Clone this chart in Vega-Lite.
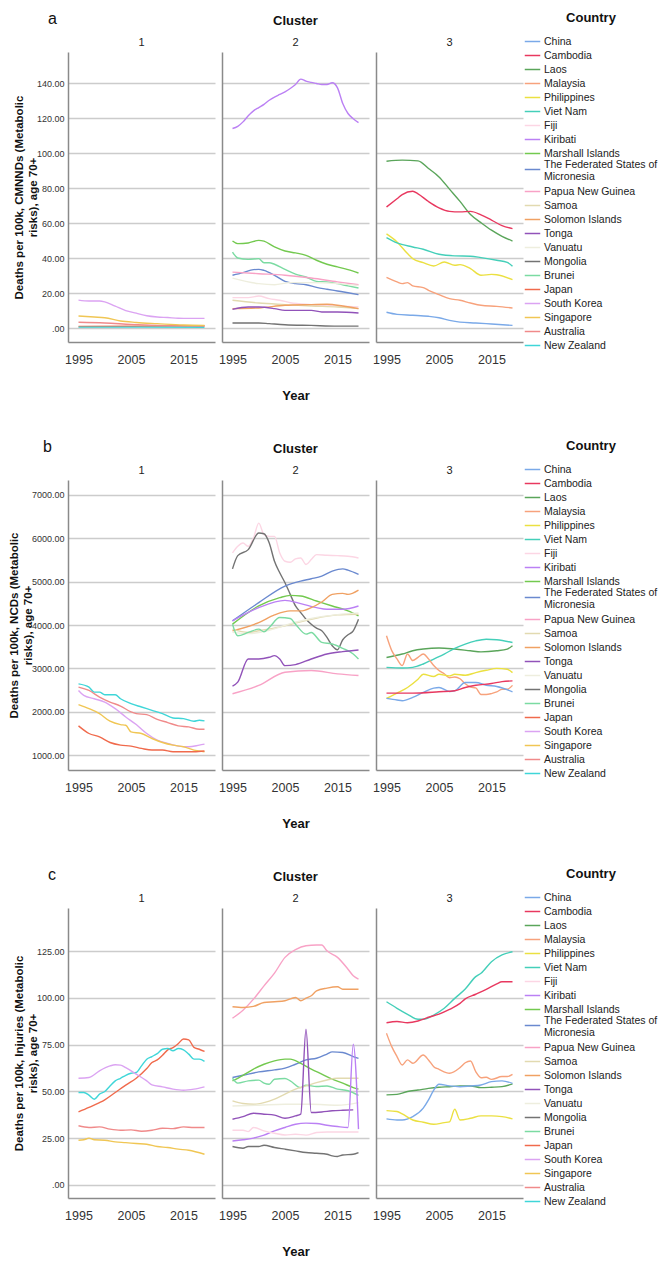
{
  "$schema": "https://vega.github.io/schema/vega-lite/v6.json",
  "padding": {"left": 8, "top": 11, "right": 0, "bottom": 0},
  "background": "white",
  "config": {
    "font": "Liberation Sans",
    "view": {"stroke": null},
    "range": {"category": ["#7aa9e8","#e8385f","#5aa55a","#f7a27c","#ebe041","#44cfb9","#fcd6e4","#bb80f4","#73c94f","#6a89cf","#f8a2c6","#e2dab0","#f0a163","#9152b9","#eeeede","#737373","#7bdba2","#f06a4c","#dba3f2","#f0c654","#f08a8a","#3fd6d8"]},
    "axis": {"gridColor": "#cccccc", "gridWidth": 1.5, "domainColor": "#8a8a8a", "domainWidth": 1.5, "ticks": false, "labelColor": "#333333", "titleColor": "#111111", "titleFontWeight": "bold"},
    "axisX": {"labelFontSize": 12.5, "labelPadding": 11, "titleFontSize": 13, "titlePadding": 24, "grid": false},
    "axisY": {"labelFontSize": 9, "labelPadding": 4, "titleFontSize": 11.5, "titlePadding": -2, "grid": true},
    "title": {"fontSize": 13, "fontWeight": "bold", "color": "#111111", "subtitleFontSize": 11, "subtitleColor": "#222222", "subtitlePadding": 9, "offset": 4, "anchor": "middle", "frame": "group"},
    "legend": {"titleFontSize": 13, "titleFontWeight": "bold", "titleColor": "#111111", "labelFontSize": 10.5, "labelColor": "#222222", "symbolType": "stroke", "symbolSize": 240, "symbolStrokeWidth": 1.5, "titleAnchor": "middle", "titlePadding": 8, "rowPadding": 0, "labelOffset": 3, "labelLimit": 200, "padding": 0},
    "concat": {"spacing": 36}
  },
  "datasets": {
    "countries": [
      {"c": "CN", "Country": "China", "Cluster": 3},
      {"c": "KH", "Country": "Cambodia", "Cluster": 3},
      {"c": "LA", "Country": "Laos", "Cluster": 3},
      {"c": "MY", "Country": "Malaysia", "Cluster": 3},
      {"c": "PH", "Country": "Philippines", "Cluster": 3},
      {"c": "VN", "Country": "Viet Nam", "Cluster": 3},
      {"c": "FJ", "Country": "Fiji", "Cluster": 2},
      {"c": "KI", "Country": "Kiribati", "Cluster": 2},
      {"c": "MH", "Country": "Marshall Islands", "Cluster": 2},
      {"c": "FM", "Country": "The Federated States of Micronesia", "Cluster": 2},
      {"c": "PG", "Country": "Papua New Guinea", "Cluster": 2},
      {"c": "WS", "Country": "Samoa", "Cluster": 2},
      {"c": "SB", "Country": "Solomon Islands", "Cluster": 2},
      {"c": "TO", "Country": "Tonga", "Cluster": 2},
      {"c": "VU", "Country": "Vanuatu", "Cluster": 2},
      {"c": "MN", "Country": "Mongolia", "Cluster": 2},
      {"c": "BN", "Country": "Brunei", "Cluster": 2},
      {"c": "JP", "Country": "Japan", "Cluster": 1},
      {"c": "KR", "Country": "South Korea", "Cluster": 1},
      {"c": "SG", "Country": "Singapore", "Cluster": 1},
      {"c": "AU", "Country": "Australia", "Cluster": 1},
      {"c": "NZ", "Country": "New Zealand", "Cluster": 1}
    ],
    "a": [
      {"c":"JP","y":1995,"v":0.9},{"c":"JP","y":2005,"v":1.0},{"c":"JP","y":2019,"v":1.3},
      {"c":"AU","y":1995,"v":3.3},{"c":"AU","y":2000,"v":2.9},{"c":"AU","y":2005,"v":2.1},{"c":"AU","y":2010,"v":1.5},{"c":"AU","y":2015,"v":1.1},{"c":"AU","y":2019,"v":1.0},
      {"c":"NZ","y":1995,"v":0.5},{"c":"NZ","y":2007,"v":0.5},{"c":"NZ","y":2019,"v":0.4},
      {"c":"KR","y":1995,"v":16},{"c":"KR","y":1997,"v":15.5},{"c":"KR","y":1999,"v":15.5},{"c":"KR","y":2000,"v":15},{"c":"KR","y":2002,"v":12.5},{"c":"KR","y":2004,"v":10},{"c":"KR","y":2006,"v":8.5},{"c":"KR","y":2008,"v":7},{"c":"KR","y":2010,"v":6.3},{"c":"KR","y":2012,"v":6},{"c":"KR","y":2014,"v":5.6},{"c":"KR","y":2016,"v":5.5},{"c":"KR","y":2019,"v":5.5},
      {"c":"SG","y":1995,"v":6.9},{"c":"SG","y":1998,"v":6.3},{"c":"SG","y":2000,"v":5.9},{"c":"SG","y":2003,"v":4},{"c":"SG","y":2006,"v":3.2},{"c":"SG","y":2010,"v":2.5},{"c":"SG","y":2015,"v":1.7},{"c":"SG","y":2019,"v":1.5},
      {"c":"KI","y":1995,"v":114.2},{"c":"KI","y":1996,"v":115.4},{"c":"KI","y":1997,"v":118},{"c":"KI","y":1998,"v":121.5},{"c":"KI","y":1999,"v":124.3},{"c":"KI","y":2000,"v":126.2},{"c":"KI","y":2001,"v":128},{"c":"KI","y":2002,"v":130.4},{"c":"KI","y":2003,"v":132.2},{"c":"KI","y":2004,"v":133.7},{"c":"KI","y":2005,"v":135.2},{"c":"KI","y":2006,"v":137.1},{"c":"KI","y":2007,"v":139.4},{"c":"KI","y":2008,"v":142.5},{"c":"KI","y":2009,"v":141.3},{"c":"KI","y":2010,"v":140.6},{"c":"KI","y":2011,"v":140},{"c":"KI","y":2012,"v":139.4},{"c":"KI","y":2013,"v":139.4},{"c":"KI","y":2014,"v":140.4},{"c":"KI","y":2015,"v":137.5},{"c":"KI","y":2016,"v":128.5},{"c":"KI","y":2017,"v":122.8},{"c":"KI","y":2018,"v":119.8},{"c":"KI","y":2019,"v":117.6},
      {"c":"MH","y":1995,"v":49.8},{"c":"MH","y":1996,"v":48.3},{"c":"MH","y":1998,"v":48.7},{"c":"MH","y":2000,"v":50.2},{"c":"MH","y":2001,"v":49.7},{"c":"MH","y":2003,"v":46.4},{"c":"MH","y":2005,"v":44.1},{"c":"MH","y":2007,"v":43},{"c":"MH","y":2009,"v":41.6},{"c":"MH","y":2011,"v":38.8},{"c":"MH","y":2013,"v":36.5},{"c":"MH","y":2015,"v":35},{"c":"MH","y":2017,"v":33.4},{"c":"MH","y":2019,"v":31.5},
      {"c":"BN","y":1995,"v":43.5},{"c":"BN","y":1996,"v":40.1},{"c":"BN","y":1998,"v":39.3},{"c":"BN","y":2000,"v":39.7},{"c":"BN","y":2001,"v":37.4},{"c":"BN","y":2002,"v":37.4},{"c":"BN","y":2003,"v":36.5},{"c":"BN","y":2005,"v":33.6},{"c":"BN","y":2007,"v":30.9},{"c":"BN","y":2009,"v":29.2},{"c":"BN","y":2011,"v":26.7},{"c":"BN","y":2013,"v":26.4},{"c":"BN","y":2015,"v":25.4},{"c":"BN","y":2017,"v":24.1},{"c":"BN","y":2019,"v":22.9},
      {"c":"FM","y":1995,"v":30.2},{"c":"FM","y":1997,"v":31.7},{"c":"FM","y":1999,"v":33.4},{"c":"FM","y":2000,"v":33.6},{"c":"FM","y":2001,"v":33},{"c":"FM","y":2003,"v":30.2},{"c":"FM","y":2005,"v":26.7},{"c":"FM","y":2007,"v":25.4},{"c":"FM","y":2009,"v":24.8},{"c":"FM","y":2011,"v":23.3},{"c":"FM","y":2013,"v":22.2},{"c":"FM","y":2015,"v":21.2},{"c":"FM","y":2017,"v":20.2},{"c":"FM","y":2019,"v":19.1},
      {"c":"PG","y":1995,"v":32},{"c":"PG","y":2000,"v":31.1},{"c":"PG","y":2005,"v":30.2},{"c":"PG","y":2010,"v":28.6},{"c":"PG","y":2015,"v":26.4},{"c":"PG","y":2019,"v":24.8},
      {"c":"VU","y":1995,"v":28.6},{"c":"VU","y":2000,"v":25.4},{"c":"VU","y":2003,"v":24.8},{"c":"VU","y":2006,"v":26},{"c":"VU","y":2010,"v":26},{"c":"VU","y":2015,"v":25.4},{"c":"VU","y":2019,"v":24.4},
      {"c":"FJ","y":1995,"v":17.4},{"c":"FJ","y":1998,"v":17.4},{"c":"FJ","y":2000,"v":18.3},{"c":"FJ","y":2002,"v":16.8},{"c":"FJ","y":2004,"v":15.9},{"c":"FJ","y":2006,"v":14.5},{"c":"FJ","y":2010,"v":13.4},{"c":"FJ","y":2015,"v":12.6},{"c":"FJ","y":2019,"v":12},
      {"c":"WS","y":1995,"v":15.9},{"c":"WS","y":2000,"v":14.3},{"c":"WS","y":2005,"v":13.4},{"c":"WS","y":2010,"v":12.6},{"c":"WS","y":2015,"v":12},{"c":"WS","y":2019,"v":11.1},
      {"c":"SB","y":1995,"v":11.1},{"c":"SB","y":2000,"v":11.5},{"c":"SB","y":2005,"v":13},{"c":"SB","y":2010,"v":13.4},{"c":"SB","y":2013,"v":13.6},{"c":"SB","y":2016,"v":12.6},{"c":"SB","y":2019,"v":11.1},
      {"c":"TO","y":1995,"v":10.7},{"c":"TO","y":1998,"v":12},{"c":"TO","y":2000,"v":12},{"c":"TO","y":2003,"v":11.1},{"c":"TO","y":2005,"v":10.1},{"c":"TO","y":2010,"v":10.1},{"c":"TO","y":2012,"v":9.2},{"c":"TO","y":2015,"v":9.2},{"c":"TO","y":2019,"v":8.6},
      {"c":"MN","y":1995,"v":2.9},{"c":"MN","y":2000,"v":2.9},{"c":"MN","y":2002,"v":2.5},{"c":"MN","y":2005,"v":1.9},{"c":"MN","y":2010,"v":1.5},{"c":"MN","y":2015,"v":1.1},{"c":"MN","y":2019,"v":1.1},
      {"c":"LA","y":1995,"v":95.5},{"c":"LA","y":1998,"v":96.1},{"c":"LA","y":2001,"v":95.7},{"c":"LA","y":2003,"v":91.3},{"c":"LA","y":2005,"v":86.5},{"c":"LA","y":2007,"v":79.5},{"c":"LA","y":2009,"v":72.5},{"c":"LA","y":2011,"v":65},{"c":"LA","y":2013,"v":60.3},{"c":"LA","y":2015,"v":56},{"c":"LA","y":2017,"v":52.5},{"c":"LA","y":2019,"v":49.8},
      {"c":"KH","y":1995,"v":69.3},{"c":"KH","y":1997,"v":74},{"c":"KH","y":1998,"v":76.4},{"c":"KH","y":2000,"v":78.3},{"c":"KH","y":2001,"v":76.8},{"c":"KH","y":2003,"v":72.4},{"c":"KH","y":2005,"v":68.8},{"c":"KH","y":2007,"v":66.8},{"c":"KH","y":2009,"v":66.5},{"c":"KH","y":2011,"v":66.8},{"c":"KH","y":2013,"v":64.8},{"c":"KH","y":2015,"v":61.8},{"c":"KH","y":2017,"v":58.6},{"c":"KH","y":2019,"v":56.9},
      {"c":"PH","y":1995,"v":53.9},{"c":"PH","y":1997,"v":49.3},{"c":"PH","y":1999,"v":42.6},{"c":"PH","y":2000,"v":39.7},{"c":"PH","y":2002,"v":37.4},{"c":"PH","y":2004,"v":35.5},{"c":"PH","y":2006,"v":37.8},{"c":"PH","y":2008,"v":35.9},{"c":"PH","y":2009,"v":36.3},{"c":"PH","y":2011,"v":34},{"c":"PH","y":2013,"v":30.2},{"c":"PH","y":2015,"v":30.7},{"c":"PH","y":2016,"v":30.5},{"c":"PH","y":2019,"v":27.7},
      {"c":"VN","y":1995,"v":51.8},{"c":"VN","y":1997,"v":48.7},{"c":"VN","y":2000,"v":46.4},{"c":"VN","y":2002,"v":45.1},{"c":"VN","y":2005,"v":42.2},{"c":"VN","y":2008,"v":41.3},{"c":"VN","y":2011,"v":41.1},{"c":"VN","y":2013,"v":40.3},{"c":"VN","y":2016,"v":38.8},{"c":"VN","y":2018,"v":37.6},{"c":"VN","y":2019,"v":35.3},
      {"c":"MY","y":1995,"v":29},{"c":"MY","y":1997,"v":26.4},{"c":"MY","y":1998,"v":25.4},{"c":"MY","y":1999,"v":26},{"c":"MY","y":2000,"v":24.1},{"c":"MY","y":2002,"v":23.1},{"c":"MY","y":2003,"v":21.6},{"c":"MY","y":2005,"v":19.1},{"c":"MY","y":2007,"v":16.8},{"c":"MY","y":2009,"v":15.9},{"c":"MY","y":2011,"v":14.3},{"c":"MY","y":2013,"v":13},{"c":"MY","y":2016,"v":12.4},{"c":"MY","y":2019,"v":11.5},
      {"c":"CN","y":1995,"v":9},{"c":"CN","y":1997,"v":7.8},{"c":"CN","y":2000,"v":7.3},{"c":"CN","y":2003,"v":6.7},{"c":"CN","y":2005,"v":5.9},{"c":"CN","y":2007,"v":4.4},{"c":"CN","y":2009,"v":3.4},{"c":"CN","y":2012,"v":2.9},{"c":"CN","y":2015,"v":2.3},{"c":"CN","y":2019,"v":1.5}
    ],
    "b": [
      {"c":"NZ","y":1995,"v":2643},{"c":"NZ","y":1997,"v":2567},{"c":"NZ","y":1998,"v":2452},{"c":"NZ","y":1999,"v":2452},{"c":"NZ","y":2000,"v":2391},{"c":"NZ","y":2002,"v":2391},{"c":"NZ","y":2003,"v":2299},{"c":"NZ","y":2005,"v":2185},{"c":"NZ","y":2007,"v":2108},{"c":"NZ","y":2009,"v":2032},{"c":"NZ","y":2011,"v":1955},{"c":"NZ","y":2013,"v":1856},{"c":"NZ","y":2015,"v":1841},{"c":"NZ","y":2017,"v":1780},{"c":"NZ","y":2018,"v":1803},{"c":"NZ","y":2019,"v":1787},
      {"c":"AU","y":1995,"v":2567},{"c":"AU","y":1997,"v":2490},{"c":"AU","y":1999,"v":2338},{"c":"AU","y":2001,"v":2223},{"c":"AU","y":2003,"v":2131},{"c":"AU","y":2005,"v":1994},{"c":"AU","y":2006,"v":1955},{"c":"AU","y":2008,"v":1932},{"c":"AU","y":2010,"v":1825},{"c":"AU","y":2012,"v":1749},{"c":"AU","y":2014,"v":1673},{"c":"AU","y":2016,"v":1650},{"c":"AU","y":2018,"v":1596},{"c":"AU","y":2019,"v":1596},
      {"c":"KR","y":1995,"v":2490},{"c":"KR","y":1996,"v":2376},{"c":"KR","y":1998,"v":2299},{"c":"KR","y":2000,"v":2223},{"c":"KR","y":2002,"v":2070},{"c":"KR","y":2004,"v":1879},{"c":"KR","y":2006,"v":1703},{"c":"KR","y":2008,"v":1497},{"c":"KR","y":2010,"v":1344},{"c":"KR","y":2012,"v":1268},{"c":"KR","y":2014,"v":1206},{"c":"KR","y":2016,"v":1191},{"c":"KR","y":2018,"v":1229},{"c":"KR","y":2019,"v":1252},
      {"c":"SG","y":1995,"v":2162},{"c":"SG","y":1997,"v":2070},{"c":"SG","y":1999,"v":1955},{"c":"SG","y":2001,"v":1780},{"c":"SG","y":2003,"v":1703},{"c":"SG","y":2004,"v":1688},{"c":"SG","y":2005,"v":1535},{"c":"SG","y":2007,"v":1497},{"c":"SG","y":2009,"v":1382},{"c":"SG","y":2011,"v":1290},{"c":"SG","y":2013,"v":1229},{"c":"SG","y":2015,"v":1191},{"c":"SG","y":2017,"v":1115},{"c":"SG","y":2019,"v":1076},
      {"c":"JP","y":1995,"v":1673},{"c":"JP","y":1997,"v":1497},{"c":"JP","y":1999,"v":1420},{"c":"JP","y":2001,"v":1290},{"c":"JP","y":2003,"v":1229},{"c":"JP","y":2005,"v":1206},{"c":"JP","y":2007,"v":1153},{"c":"JP","y":2009,"v":1115},{"c":"JP","y":2011,"v":1115},{"c":"JP","y":2013,"v":1076},{"c":"JP","y":2015,"v":1076},{"c":"JP","y":2017,"v":1076},{"c":"JP","y":2019,"v":1092},
      {"c":"FJ","y":1995,"v":5662},{"c":"FJ","y":1996,"v":5815},{"c":"FJ","y":1997,"v":5892},{"c":"FJ","y":1998,"v":5815},{"c":"FJ","y":1999,"v":6006},{"c":"FJ","y":2000,"v":6350},{"c":"FJ","y":2001,"v":6083},{"c":"FJ","y":2002,"v":6044},{"c":"FJ","y":2003,"v":6044},{"c":"FJ","y":2004,"v":5662},{"c":"FJ","y":2005,"v":5471},{"c":"FJ","y":2006,"v":5448},{"c":"FJ","y":2007,"v":5525},{"c":"FJ","y":2008,"v":5547},{"c":"FJ","y":2009,"v":5395},{"c":"FJ","y":2010,"v":5509},{"c":"FJ","y":2011,"v":5624},{"c":"FJ","y":2013,"v":5609},{"c":"FJ","y":2015,"v":5601},{"c":"FJ","y":2017,"v":5586},{"c":"FJ","y":2019,"v":5547},
      {"c":"MN","y":1995,"v":5295},{"c":"MN","y":1996,"v":5601},{"c":"MN","y":1998,"v":5739},{"c":"MN","y":2000,"v":6121},{"c":"MN","y":2001,"v":6106},{"c":"MN","y":2002,"v":5892},{"c":"MN","y":2003,"v":5471},{"c":"MN","y":2004,"v":5204},{"c":"MN","y":2005,"v":4975},{"c":"MN","y":2006,"v":4707},{"c":"MN","y":2007,"v":4440},{"c":"MN","y":2008,"v":4287},{"c":"MN","y":2009,"v":4133},{"c":"MN","y":2010,"v":4019},{"c":"MN","y":2011,"v":3927},{"c":"MN","y":2012,"v":3866},{"c":"MN","y":2013,"v":3713},{"c":"MN","y":2014,"v":3522},{"c":"MN","y":2015,"v":3430},{"c":"MN","y":2016,"v":3660},{"c":"MN","y":2017,"v":3775},{"c":"MN","y":2018,"v":3866},{"c":"MN","y":2019,"v":4133},
      {"c":"FM","y":1995,"v":4095},{"c":"FM","y":2000,"v":4516},{"c":"FM","y":2005,"v":4898},{"c":"FM","y":2008,"v":5013},{"c":"FM","y":2010,"v":5066},{"c":"FM","y":2012,"v":5127},{"c":"FM","y":2014,"v":5242},{"c":"FM","y":2016,"v":5295},{"c":"FM","y":2017,"v":5265},{"c":"FM","y":2019,"v":5165},
      {"c":"MH","y":1995,"v":4019},{"c":"MH","y":2000,"v":4439},{"c":"MH","y":2004,"v":4630},{"c":"MH","y":2006,"v":4684},{"c":"MH","y":2008,"v":4669},{"c":"MH","y":2011,"v":4554},{"c":"MH","y":2014,"v":4439},{"c":"MH","y":2017,"v":4325},{"c":"MH","y":2019,"v":4210},
      {"c":"KI","y":1995,"v":4095},{"c":"KI","y":2000,"v":4401},{"c":"KI","y":2005,"v":4569},{"c":"KI","y":2008,"v":4493},{"c":"KI","y":2011,"v":4401},{"c":"KI","y":2013,"v":4363},{"c":"KI","y":2016,"v":4363},{"c":"KI","y":2019,"v":4439},
      {"c":"SB","y":1995,"v":3866},{"c":"SB","y":2000,"v":4057},{"c":"SB","y":2003,"v":4233},{"c":"SB","y":2006,"v":4325},{"c":"SB","y":2008,"v":4325},{"c":"SB","y":2010,"v":4401},{"c":"SB","y":2012,"v":4531},{"c":"SB","y":2014,"v":4707},{"c":"SB","y":2016,"v":4730},{"c":"SB","y":2017,"v":4707},{"c":"SB","y":2019,"v":4806},
      {"c":"WS","y":1995,"v":3904},{"c":"WS","y":1998,"v":3828},{"c":"WS","y":2000,"v":3866},{"c":"WS","y":2005,"v":3981},{"c":"WS","y":2010,"v":4133},{"c":"WS","y":2015,"v":4233},{"c":"WS","y":2019,"v":4248},
      {"c":"VU","y":1995,"v":3830},{"c":"VU","y":1998,"v":3800},{"c":"VU","y":2002,"v":3880},{"c":"VU","y":2006,"v":4030},{"c":"VU","y":2010,"v":4150},{"c":"VU","y":2015,"v":4240},{"c":"VU","y":2019,"v":4280},
      {"c":"BN","y":1995,"v":4019},{"c":"BN","y":1996,"v":3752},{"c":"BN","y":1998,"v":3828},{"c":"BN","y":2000,"v":3904},{"c":"BN","y":2001,"v":3843},{"c":"BN","y":2002,"v":3943},{"c":"BN","y":2004,"v":4172},{"c":"BN","y":2006,"v":4149},{"c":"BN","y":2007,"v":4019},{"c":"BN","y":2009,"v":3790},{"c":"BN","y":2010,"v":3828},{"c":"BN","y":2012,"v":3599},{"c":"BN","y":2014,"v":3561},{"c":"BN","y":2016,"v":3461},{"c":"BN","y":2018,"v":3331},{"c":"BN","y":2019,"v":3216},
      {"c":"TO","y":1995,"v":2590},{"c":"TO","y":1996,"v":2681},{"c":"TO","y":1998,"v":3216},{"c":"TO","y":2000,"v":3216},{"c":"TO","y":2002,"v":3255},{"c":"TO","y":2003,"v":3293},{"c":"TO","y":2004,"v":3216},{"c":"TO","y":2005,"v":3063},{"c":"TO","y":2007,"v":3087},{"c":"TO","y":2010,"v":3216},{"c":"TO","y":2013,"v":3331},{"c":"TO","y":2016,"v":3385},{"c":"TO","y":2019,"v":3423},
      {"c":"PG","y":1995,"v":2414},{"c":"PG","y":2000,"v":2605},{"c":"PG","y":2005,"v":2911},{"c":"PG","y":2010,"v":2949},{"c":"PG","y":2015,"v":2872},{"c":"PG","y":2019,"v":2834},
      {"c":"LA","y":1995,"v":3250},{"c":"LA","y":1998,"v":3330},{"c":"LA","y":2000,"v":3405},{"c":"LA","y":2002,"v":3445},{"c":"LA","y":2005,"v":3470},{"c":"LA","y":2008,"v":3445},{"c":"LA","y":2011,"v":3405},{"c":"LA","y":2013,"v":3380},{"c":"LA","y":2016,"v":3405},{"c":"LA","y":2018,"v":3445},{"c":"LA","y":2019,"v":3520},
      {"c":"VN","y":1995,"v":3023},{"c":"VN","y":1998,"v":3008},{"c":"VN","y":2000,"v":3023},{"c":"VN","y":2002,"v":3100},{"c":"VN","y":2004,"v":3215},{"c":"VN","y":2006,"v":3330},{"c":"VN","y":2008,"v":3460},{"c":"VN","y":2010,"v":3560},{"c":"VN","y":2012,"v":3635},{"c":"VN","y":2014,"v":3673},{"c":"VN","y":2016,"v":3660},{"c":"VN","y":2019,"v":3597},
      {"c":"MY","y":1995,"v":3750},{"c":"MY","y":1996,"v":3408},{"c":"MY","y":1997,"v":3217},{"c":"MY","y":1998,"v":3065},{"c":"MY","y":1999,"v":3330},{"c":"MY","y":2000,"v":3180},{"c":"MY","y":2001,"v":3255},{"c":"MY","y":2002,"v":3330},{"c":"MY","y":2003,"v":3218},{"c":"MY","y":2004,"v":3065},{"c":"MY","y":2005,"v":2950},{"c":"MY","y":2006,"v":2875},{"c":"MY","y":2007,"v":2784},{"c":"MY","y":2008,"v":2800},{"c":"MY","y":2009,"v":2760},{"c":"MY","y":2010,"v":2645},{"c":"MY","y":2011,"v":2570},{"c":"MY","y":2012,"v":2548},{"c":"MY","y":2013,"v":2396},{"c":"MY","y":2014,"v":2396},{"c":"MY","y":2015,"v":2418},{"c":"MY","y":2016,"v":2456},{"c":"MY","y":2017,"v":2517},{"c":"MY","y":2018,"v":2517},{"c":"MY","y":2019,"v":2608},
      {"c":"PH","y":1995,"v":2307},{"c":"PH","y":1997,"v":2429},{"c":"PH","y":1999,"v":2559},{"c":"PH","y":2001,"v":2750},{"c":"PH","y":2002,"v":2864},{"c":"PH","y":2004,"v":2811},{"c":"PH","y":2005,"v":2864},{"c":"PH","y":2007,"v":2826},{"c":"PH","y":2008,"v":2864},{"c":"PH","y":2010,"v":2841},{"c":"PH","y":2012,"v":2902},{"c":"PH","y":2014,"v":2955},{"c":"PH","y":2016,"v":3000},{"c":"PH","y":2018,"v":2978},{"c":"PH","y":2019,"v":2902},
      {"c":"CN","y":1995,"v":2307},{"c":"CN","y":1997,"v":2269},{"c":"CN","y":1998,"v":2254},{"c":"CN","y":2000,"v":2330},{"c":"CN","y":2002,"v":2444},{"c":"CN","y":2004,"v":2543},{"c":"CN","y":2005,"v":2558},{"c":"CN","y":2007,"v":2467},{"c":"CN","y":2008,"v":2482},{"c":"CN","y":2010,"v":2672},{"c":"CN","y":2012,"v":2672},{"c":"CN","y":2014,"v":2611},{"c":"CN","y":2016,"v":2581},{"c":"CN","y":2019,"v":2459},
      {"c":"KH","y":1995,"v":2429},{"c":"KH","y":2000,"v":2429},{"c":"KH","y":2005,"v":2459},{"c":"KH","y":2008,"v":2482},{"c":"KH","y":2010,"v":2558},{"c":"KH","y":2012,"v":2611},{"c":"KH","y":2015,"v":2649},{"c":"KH","y":2017,"v":2695},{"c":"KH","y":2019,"v":2710}
    ],
    "c": [
      {"c":"JP","y":1995,"v":39},{"c":"JP","y":1997,"v":41.4},{"c":"JP","y":1999,"v":44},{"c":"JP","y":2000,"v":45.5},{"c":"JP","y":2002,"v":49.4},{"c":"JP","y":2004,"v":53.3},{"c":"JP","y":2006,"v":57},{"c":"JP","y":2008,"v":62.2},{"c":"JP","y":2009,"v":65.4},{"c":"JP","y":2010,"v":66.8},{"c":"JP","y":2011,"v":69.3},{"c":"JP","y":2012,"v":72.2},{"c":"JP","y":2013,"v":73.4},{"c":"JP","y":2014,"v":75.5},{"c":"JP","y":2015,"v":78},{"c":"JP","y":2016,"v":77.5},{"c":"JP","y":2017,"v":73.5},{"c":"JP","y":2018,"v":72.5},{"c":"JP","y":2019,"v":71.3},
      {"c":"NZ","y":1995,"v":49.4},{"c":"NZ","y":1996,"v":49.4},{"c":"NZ","y":1997,"v":48},{"c":"NZ","y":1998,"v":45.8},{"c":"NZ","y":1999,"v":48.5},{"c":"NZ","y":2000,"v":49.9},{"c":"NZ","y":2001,"v":52.9},{"c":"NZ","y":2002,"v":55.6},{"c":"NZ","y":2003,"v":57},{"c":"NZ","y":2004,"v":58.6},{"c":"NZ","y":2005,"v":59.7},{"c":"NZ","y":2006,"v":60.1},{"c":"NZ","y":2007,"v":63.6},{"c":"NZ","y":2008,"v":67.2},{"c":"NZ","y":2009,"v":68.6},{"c":"NZ","y":2010,"v":70.2},{"c":"NZ","y":2011,"v":72.5},{"c":"NZ","y":2012,"v":72.9},{"c":"NZ","y":2013,"v":71.7},{"c":"NZ","y":2014,"v":72.9},{"c":"NZ","y":2015,"v":72.2},{"c":"NZ","y":2016,"v":69.9},{"c":"NZ","y":2017,"v":67.2},{"c":"NZ","y":2018,"v":67.2},{"c":"NZ","y":2019,"v":66},
      {"c":"KR","y":1995,"v":57},{"c":"KR","y":1997,"v":57.4},{"c":"KR","y":1999,"v":61},{"c":"KR","y":2001,"v":63.6},{"c":"KR","y":2002,"v":64.2},{"c":"KR","y":2003,"v":64},{"c":"KR","y":2004,"v":62.7},{"c":"KR","y":2006,"v":59.2},{"c":"KR","y":2008,"v":55.6},{"c":"KR","y":2009,"v":53.5},{"c":"KR","y":2011,"v":52.4},{"c":"KR","y":2013,"v":51.2},{"c":"KR","y":2015,"v":50.6},{"c":"KR","y":2017,"v":51.2},{"c":"KR","y":2019,"v":52.4},
      {"c":"AU","y":1995,"v":31.6},{"c":"AU","y":1997,"v":30.7},{"c":"AU","y":1999,"v":31},{"c":"AU","y":2001,"v":29.8},{"c":"AU","y":2003,"v":29.2},{"c":"AU","y":2005,"v":29.4},{"c":"AU","y":2007,"v":28.7},{"c":"AU","y":2009,"v":29.2},{"c":"AU","y":2011,"v":30.3},{"c":"AU","y":2013,"v":30.1},{"c":"AU","y":2015,"v":31},{"c":"AU","y":2017,"v":30.7},{"c":"AU","y":2019,"v":30.7},
      {"c":"SG","y":1995,"v":23.9},{"c":"SG","y":1996,"v":24.1},{"c":"SG","y":1997,"v":25},{"c":"SG","y":1998,"v":24.1},{"c":"SG","y":2000,"v":23.9},{"c":"SG","y":2002,"v":23},{"c":"SG","y":2004,"v":22.6},{"c":"SG","y":2006,"v":22.1},{"c":"SG","y":2008,"v":21.7},{"c":"SG","y":2010,"v":20.5},{"c":"SG","y":2012,"v":20},{"c":"SG","y":2014,"v":19.1},{"c":"SG","y":2016,"v":18.5},{"c":"SG","y":2019,"v":16.4},
      {"c":"PG","y":1995,"v":89.1},{"c":"PG","y":1997,"v":93.4},{"c":"PG","y":1999,"v":99.3},{"c":"PG","y":2001,"v":106.4},{"c":"PG","y":2003,"v":113.2},{"c":"PG","y":2005,"v":121.6},{"c":"PG","y":2007,"v":125.7},{"c":"PG","y":2009,"v":127.8},{"c":"PG","y":2011,"v":128.2},{"c":"PG","y":2012,"v":128.2},{"c":"PG","y":2013,"v":125.1},{"c":"PG","y":2015,"v":121.6},{"c":"PG","y":2017,"v":115.3},{"c":"PG","y":2018,"v":111.8},{"c":"PG","y":2019,"v":110},
      {"c":"SB","y":1995,"v":95.2},{"c":"SB","y":1997,"v":94.8},{"c":"SB","y":1999,"v":95.4},{"c":"SB","y":2001,"v":97.5},{"c":"SB","y":2003,"v":97.9},{"c":"SB","y":2005,"v":98.4},{"c":"SB","y":2007,"v":100.2},{"c":"SB","y":2008,"v":98.4},{"c":"SB","y":2009,"v":99.8},{"c":"SB","y":2010,"v":101.1},{"c":"SB","y":2011,"v":103.7},{"c":"SB","y":2013,"v":105.2},{"c":"SB","y":2015,"v":105.9},{"c":"SB","y":2016,"v":104.6},{"c":"SB","y":2019,"v":104.6},
      {"c":"FM","y":1995,"v":57.4},{"c":"FM","y":1997,"v":58.6},{"c":"FM","y":2000,"v":60.4},{"c":"FM","y":2003,"v":61.5},{"c":"FM","y":2005,"v":62.4},{"c":"FM","y":2007,"v":64.5},{"c":"FM","y":2009,"v":66.8},{"c":"FM","y":2011,"v":67.7},{"c":"FM","y":2013,"v":69.9},{"c":"FM","y":2014,"v":71.1},{"c":"FM","y":2016,"v":70.8},{"c":"FM","y":2018,"v":68.6},{"c":"FM","y":2019,"v":67.6},
      {"c":"MH","y":1995,"v":55.6},{"c":"MH","y":1997,"v":58.6},{"c":"MH","y":1999,"v":61.9},{"c":"MH","y":2001,"v":64.5},{"c":"MH","y":2003,"v":66.3},{"c":"MH","y":2005,"v":67.2},{"c":"MH","y":2006,"v":67.2},{"c":"MH","y":2008,"v":64.9},{"c":"MH","y":2010,"v":61.9},{"c":"MH","y":2012,"v":59.2},{"c":"MH","y":2014,"v":56.5},{"c":"MH","y":2016,"v":54.4},{"c":"MH","y":2018,"v":52},{"c":"MH","y":2019,"v":51.2},
      {"c":"BN","y":1995,"v":57},{"c":"BN","y":1996,"v":54.4},{"c":"BN","y":1998,"v":55.6},{"c":"BN","y":2000,"v":56},{"c":"BN","y":2001,"v":54.4},{"c":"BN","y":2002,"v":53.8},{"c":"BN","y":2003,"v":56.5},{"c":"BN","y":2005,"v":56.9},{"c":"BN","y":2006,"v":55.6},{"c":"BN","y":2008,"v":52},{"c":"BN","y":2009,"v":53.3},{"c":"BN","y":2011,"v":52.6},{"c":"BN","y":2013,"v":52.9},{"c":"BN","y":2015,"v":51.2},{"c":"BN","y":2017,"v":50.3},{"c":"BN","y":2019,"v":47.9},
      {"c":"WS","y":1995,"v":44.9},{"c":"WS","y":1997,"v":43.5},{"c":"WS","y":1999,"v":43.1},{"c":"WS","y":2001,"v":44},{"c":"WS","y":2003,"v":45.8},{"c":"WS","y":2005,"v":48.5},{"c":"WS","y":2007,"v":51.2},{"c":"WS","y":2009,"v":52.9},{"c":"WS","y":2011,"v":54.7},{"c":"WS","y":2013,"v":56.1},{"c":"WS","y":2015,"v":57},{"c":"WS","y":2017,"v":57},{"c":"WS","y":2019,"v":57},
      {"c":"VU","y":1995,"v":42.2},{"c":"VU","y":2000,"v":42.6},{"c":"VU","y":2005,"v":43.1},{"c":"VU","y":2010,"v":43.1},{"c":"VU","y":2015,"v":42.6},{"c":"VU","y":2019,"v":44},
      {"c":"TO","y":1995,"v":35.1},{"c":"TO","y":1997,"v":36.5},{"c":"TO","y":1999,"v":38.3},{"c":"TO","y":2001,"v":37.8},{"c":"TO","y":2003,"v":37.3},{"c":"TO","y":2005,"v":35.6},{"c":"TO","y":2007,"v":36.9},{"c":"TO","y":2008,"v":37.8},{"c":"TO","y":2009,"v":83.2},{"c":"TO","y":2010,"v":38.7},{"c":"TO","y":2012,"v":39},{"c":"TO","y":2014,"v":39.6},{"c":"TO","y":2016,"v":39.9},{"c":"TO","y":2018,"v":40.1},
      {"c":"KI","y":1995,"v":23.5},{"c":"KI","y":1997,"v":24.1},{"c":"KI","y":1999,"v":25},{"c":"KI","y":2001,"v":26.6},{"c":"KI","y":2003,"v":28.9},{"c":"KI","y":2005,"v":30.7},{"c":"KI","y":2007,"v":32.4},{"c":"KI","y":2009,"v":33},{"c":"KI","y":2011,"v":32.8},{"c":"KI","y":2013,"v":31.9},{"c":"KI","y":2015,"v":31.2},{"c":"KI","y":2017,"v":30.7},{"c":"KI","y":2018,"v":75.2},{"c":"KI","y":2019,"v":29.8},
      {"c":"FJ","y":1995,"v":29.2},{"c":"FJ","y":1997,"v":29.2},{"c":"FJ","y":1998,"v":28.5},{"c":"FJ","y":1999,"v":30.7},{"c":"FJ","y":2001,"v":28.9},{"c":"FJ","y":2003,"v":27.6},{"c":"FJ","y":2005,"v":26.7},{"c":"FJ","y":2007,"v":27.1},{"c":"FJ","y":2009,"v":26.6},{"c":"FJ","y":2011,"v":28},{"c":"FJ","y":2013,"v":28.3},{"c":"FJ","y":2016,"v":28.3},{"c":"FJ","y":2019,"v":28.3},
      {"c":"MN","y":1995,"v":20.5},{"c":"MN","y":1997,"v":19.6},{"c":"MN","y":1998,"v":20.5},{"c":"MN","y":2000,"v":20.5},{"c":"MN","y":2001,"v":21.2},{"c":"MN","y":2003,"v":20},{"c":"MN","y":2005,"v":19.1},{"c":"MN","y":2007,"v":18.2},{"c":"MN","y":2009,"v":17.3},{"c":"MN","y":2011,"v":16.9},{"c":"MN","y":2013,"v":16.4},{"c":"MN","y":2014,"v":15.5},{"c":"MN","y":2015,"v":15.2},{"c":"MN","y":2016,"v":16},{"c":"MN","y":2018,"v":16.4},{"c":"MN","y":2019,"v":17.3},
      {"c":"VN","y":1995,"v":97.9},{"c":"VN","y":1997,"v":94.4},{"c":"VN","y":1999,"v":91.2},{"c":"VN","y":2001,"v":88.5},{"c":"VN","y":2002,"v":88.5},{"c":"VN","y":2004,"v":90.8},{"c":"VN","y":2006,"v":94.4},{"c":"VN","y":2008,"v":99.7},{"c":"VN","y":2010,"v":104.7},{"c":"VN","y":2012,"v":111.3},{"c":"VN","y":2013,"v":113.1},{"c":"VN","y":2015,"v":119.3},{"c":"VN","y":2017,"v":122.9},{"c":"VN","y":2019,"v":124.6},
      {"c":"KH","y":1995,"v":86.7},{"c":"KH","y":1997,"v":87.3},{"c":"KH","y":1999,"v":86.7},{"c":"KH","y":2001,"v":87.6},{"c":"KH","y":2003,"v":89.6},{"c":"KH","y":2005,"v":91.3},{"c":"KH","y":2007,"v":93.8},{"c":"KH","y":2009,"v":97},{"c":"KH","y":2010,"v":99.4},{"c":"KH","y":2012,"v":101.9},{"c":"KH","y":2014,"v":104.5},{"c":"KH","y":2016,"v":107.4},{"c":"KH","y":2017,"v":108.6},{"c":"KH","y":2019,"v":108.6},
      {"c":"MY","y":1995,"v":81},{"c":"MY","y":1996,"v":73.9},{"c":"MY","y":1997,"v":68.6},{"c":"MY","y":1998,"v":64.1},{"c":"MY","y":1999,"v":66.8},{"c":"MY","y":2000,"v":65},{"c":"MY","y":2002,"v":69.4},{"c":"MY","y":2003,"v":66.8},{"c":"MY","y":2004,"v":63.2},{"c":"MY","y":2005,"v":61.8},{"c":"MY","y":2007,"v":59.7},{"c":"MY","y":2009,"v":62.7},{"c":"MY","y":2010,"v":65.3},{"c":"MY","y":2011,"v":66.2},{"c":"MY","y":2012,"v":60.5},{"c":"MY","y":2013,"v":57.3},{"c":"MY","y":2014,"v":57.5},{"c":"MY","y":2015,"v":56.4},{"c":"MY","y":2017,"v":57.9},{"c":"MY","y":2018,"v":57.9},{"c":"MY","y":2019,"v":59.1},
      {"c":"LA","y":1995,"v":48.1},{"c":"LA","y":1997,"v":48.4},{"c":"LA","y":1999,"v":49.9},{"c":"LA","y":2001,"v":50.7},{"c":"LA","y":2003,"v":51.6},{"c":"LA","y":2005,"v":52.2},{"c":"LA","y":2007,"v":52.5},{"c":"LA","y":2009,"v":52.9},{"c":"LA","y":2011,"v":52.9},{"c":"LA","y":2013,"v":52},{"c":"LA","y":2015,"v":52.2},{"c":"LA","y":2017,"v":52.5},{"c":"LA","y":2019,"v":54},
      {"c":"CN","y":1995,"v":35.3},{"c":"CN","y":1997,"v":34.7},{"c":"CN","y":1998,"v":34.7},{"c":"CN","y":2000,"v":36.5},{"c":"CN","y":2002,"v":41},{"c":"CN","y":2003,"v":45.4},{"c":"CN","y":2004,"v":50.7},{"c":"CN","y":2005,"v":53.8},{"c":"CN","y":2007,"v":52.9},{"c":"CN","y":2009,"v":52.5},{"c":"CN","y":2011,"v":52.9},{"c":"CN","y":2013,"v":53.4},{"c":"CN","y":2015,"v":55.2},{"c":"CN","y":2017,"v":55.6},{"c":"CN","y":2019,"v":54.3},
      {"c":"PH","y":1995,"v":39.7},{"c":"PH","y":1997,"v":39.2},{"c":"PH","y":1998,"v":37.9},{"c":"PH","y":2000,"v":34.7},{"c":"PH","y":2002,"v":33.5},{"c":"PH","y":2004,"v":32.4},{"c":"PH","y":2006,"v":33.3},{"c":"PH","y":2007,"v":33.7},{"c":"PH","y":2008,"v":40.4},{"c":"PH","y":2009,"v":34.7},{"c":"PH","y":2011,"v":35.6},{"c":"PH","y":2013,"v":36.9},{"c":"PH","y":2015,"v":36.9},{"c":"PH","y":2017,"v":36.5},{"c":"PH","y":2019,"v":35.3}
    ]
  },
  "vconcat": [
    {
      "data": {"name": "a"},
      "title": {"text": "a", "anchor": "start", "frame": "bounds", "offset": -15, "dx": 34, "fontSize": 16, "fontWeight": "normal"},
      "spacing": 3,
      "hconcat": [
        {"transform": [{"lookup": "c", "from": {"data": {"name": "countries"}, "key": "c", "fields": ["Country", "Cluster"]}}, {"filter": "datum.Cluster == 1"}],
         "title": {"text": " ", "subtitle": "1"}, "width": 147, "height": 290,
         "mark": {"type": "line", "interpolate": "monotone", "strokeWidth": 1.4},
         "encoding": {
           "x": {"field": "y", "type": "quantitative", "scale": {"domain": [1993, 2021], "nice": false, "zero": false}, "axis": {"title": null, "values": [1995, 2005, 2015], "format": "d"}},
           "y": {"field": "v", "type": "quantitative", "scale": {"domain": [-8, 158], "nice": false, "zero": false}, "axis": {"title": ["Deaths per 100k, CMNNDs (Metabolic", "risks), age 70+"], "values": [0, 20, 40, 60, 80, 100, 120, 140], "labelExpr": "datum.value == 0 ? '.00' : format(datum.value, '.2f')"}},
           "color": {"field": "Country", "type": "nominal", "scale": {"domain": ["China","Cambodia","Laos","Malaysia","Philippines","Viet Nam","Fiji","Kiribati","Marshall Islands","The Federated States of Micronesia","Papua New Guinea","Samoa","Solomon Islands","Tonga","Vanuatu","Mongolia","Brunei","Japan","South Korea","Singapore","Australia","New Zealand"]}, "legend": {"title": "Country", "orient": "none", "legendX": 456, "legendY": -40, "labelBaseline": {"expr": "datum.label == 'The Federated States of Micronesia' ? 'bottom' : 'middle'"}, "labelExpr": "datum.label == 'The Federated States of Micronesia' ? ['The Federated States of', 'Micronesia'] : datum.label"}}
         }},
        {"transform": [{"lookup": "c", "from": {"data": {"name": "countries"}, "key": "c", "fields": ["Country", "Cluster"]}}, {"filter": "datum.Cluster == 2"}],
         "title": {"text": "Cluster", "subtitle": "2"}, "width": 147, "height": 290,
         "mark": {"type": "line", "interpolate": "monotone", "strokeWidth": 1.4},
         "encoding": {
           "x": {"field": "y", "type": "quantitative", "scale": {"domain": [1993, 2021], "nice": false, "zero": false}, "axis": {"title": "Year", "values": [1995, 2005, 2015], "format": "d"}},
           "y": {"field": "v", "type": "quantitative", "scale": {"domain": [-8, 158], "nice": false, "zero": false}, "axis": {"title": null, "labels": false, "values": [0, 20, 40, 60, 80, 100, 120, 140]}},
           "color": {"field": "Country", "type": "nominal", "scale": {"domain": ["China","Cambodia","Laos","Malaysia","Philippines","Viet Nam","Fiji","Kiribati","Marshall Islands","The Federated States of Micronesia","Papua New Guinea","Samoa","Solomon Islands","Tonga","Vanuatu","Mongolia","Brunei","Japan","South Korea","Singapore","Australia","New Zealand"]}, "legend": {"title": "Country", "orient": "none", "legendX": 456, "legendY": -40, "labelBaseline": {"expr": "datum.label == 'The Federated States of Micronesia' ? 'bottom' : 'middle'"}, "labelExpr": "datum.label == 'The Federated States of Micronesia' ? ['The Federated States of', 'Micronesia'] : datum.label"}}
         }},
        {"transform": [{"lookup": "c", "from": {"data": {"name": "countries"}, "key": "c", "fields": ["Country", "Cluster"]}}, {"filter": "datum.Cluster == 3"}],
         "title": {"text": " ", "subtitle": "3"}, "width": 147, "height": 290,
         "mark": {"type": "line", "interpolate": "monotone", "strokeWidth": 1.4},
         "encoding": {
           "x": {"field": "y", "type": "quantitative", "scale": {"domain": [1993, 2021], "nice": false, "zero": false}, "axis": {"title": null, "values": [1995, 2005, 2015], "format": "d"}},
           "y": {"field": "v", "type": "quantitative", "scale": {"domain": [-8, 158], "nice": false, "zero": false}, "axis": {"title": null, "labels": false, "values": [0, 20, 40, 60, 80, 100, 120, 140]}},
           "color": {"field": "Country", "type": "nominal", "scale": {"domain": ["China","Cambodia","Laos","Malaysia","Philippines","Viet Nam","Fiji","Kiribati","Marshall Islands","The Federated States of Micronesia","Papua New Guinea","Samoa","Solomon Islands","Tonga","Vanuatu","Mongolia","Brunei","Japan","South Korea","Singapore","Australia","New Zealand"]}, "legend": {"title": "Country", "orient": "none", "legendX": 456, "legendY": -40, "labelBaseline": {"expr": "datum.label == 'The Federated States of Micronesia' ? 'bottom' : 'middle'"}, "labelExpr": "datum.label == 'The Federated States of Micronesia' ? ['The Federated States of', 'Micronesia'] : datum.label"}}
         }}
      ]
    },
    {
      "data": {"name": "b"},
      "title": {"text": "b", "anchor": "start", "frame": "bounds", "offset": -15, "dx": 34, "fontSize": 16, "fontWeight": "normal"},
      "spacing": 3,
      "hconcat": [
        {"transform": [{"lookup": "c", "from": {"data": {"name": "countries"}, "key": "c", "fields": ["Country", "Cluster"]}}, {"filter": "datum.Cluster == 1"}],
         "title": {"text": " ", "subtitle": "1"}, "width": 147, "height": 290,
         "mark": {"type": "line", "interpolate": "monotone", "strokeWidth": 1.4},
         "encoding": {
           "x": {"field": "y", "type": "quantitative", "scale": {"domain": [1993, 2021], "nice": false, "zero": false}, "axis": {"title": null, "values": [1995, 2005, 2015], "format": "d"}},
           "y": {"field": "v", "type": "quantitative", "scale": {"domain": [655, 7345], "nice": false, "zero": false}, "axis": {"title": ["Deaths per 100k, NCDs (Metabolic", "risks), age 70+"], "values": [1000, 2000, 3000, 4000, 5000, 6000, 7000], "format": ".2f"}},
           "color": {"field": "Country", "type": "nominal", "scale": {"domain": ["China","Cambodia","Laos","Malaysia","Philippines","Viet Nam","Fiji","Kiribati","Marshall Islands","The Federated States of Micronesia","Papua New Guinea","Samoa","Solomon Islands","Tonga","Vanuatu","Mongolia","Brunei","Japan","South Korea","Singapore","Australia","New Zealand"]}, "legend": {"title": "Country", "orient": "none", "legendX": 456, "legendY": -40, "labelBaseline": {"expr": "datum.label == 'The Federated States of Micronesia' ? 'bottom' : 'middle'"}, "labelExpr": "datum.label == 'The Federated States of Micronesia' ? ['The Federated States of', 'Micronesia'] : datum.label"}}
         }},
        {"transform": [{"lookup": "c", "from": {"data": {"name": "countries"}, "key": "c", "fields": ["Country", "Cluster"]}}, {"filter": "datum.Cluster == 2"}],
         "title": {"text": "Cluster", "subtitle": "2"}, "width": 147, "height": 290,
         "mark": {"type": "line", "interpolate": "monotone", "strokeWidth": 1.4},
         "encoding": {
           "x": {"field": "y", "type": "quantitative", "scale": {"domain": [1993, 2021], "nice": false, "zero": false}, "axis": {"title": "Year", "values": [1995, 2005, 2015], "format": "d"}},
           "y": {"field": "v", "type": "quantitative", "scale": {"domain": [655, 7345], "nice": false, "zero": false}, "axis": {"title": null, "labels": false, "values": [1000, 2000, 3000, 4000, 5000, 6000, 7000]}},
           "color": {"field": "Country", "type": "nominal", "scale": {"domain": ["China","Cambodia","Laos","Malaysia","Philippines","Viet Nam","Fiji","Kiribati","Marshall Islands","The Federated States of Micronesia","Papua New Guinea","Samoa","Solomon Islands","Tonga","Vanuatu","Mongolia","Brunei","Japan","South Korea","Singapore","Australia","New Zealand"]}, "legend": {"title": "Country", "orient": "none", "legendX": 456, "legendY": -40, "labelBaseline": {"expr": "datum.label == 'The Federated States of Micronesia' ? 'bottom' : 'middle'"}, "labelExpr": "datum.label == 'The Federated States of Micronesia' ? ['The Federated States of', 'Micronesia'] : datum.label"}}
         }},
        {"transform": [{"lookup": "c", "from": {"data": {"name": "countries"}, "key": "c", "fields": ["Country", "Cluster"]}}, {"filter": "datum.Cluster == 3"}],
         "title": {"text": " ", "subtitle": "3"}, "width": 147, "height": 290,
         "mark": {"type": "line", "interpolate": "monotone", "strokeWidth": 1.4},
         "encoding": {
           "x": {"field": "y", "type": "quantitative", "scale": {"domain": [1993, 2021], "nice": false, "zero": false}, "axis": {"title": null, "values": [1995, 2005, 2015], "format": "d"}},
           "y": {"field": "v", "type": "quantitative", "scale": {"domain": [655, 7345], "nice": false, "zero": false}, "axis": {"title": null, "labels": false, "values": [1000, 2000, 3000, 4000, 5000, 6000, 7000]}},
           "color": {"field": "Country", "type": "nominal", "scale": {"domain": ["China","Cambodia","Laos","Malaysia","Philippines","Viet Nam","Fiji","Kiribati","Marshall Islands","The Federated States of Micronesia","Papua New Guinea","Samoa","Solomon Islands","Tonga","Vanuatu","Mongolia","Brunei","Japan","South Korea","Singapore","Australia","New Zealand"]}, "legend": {"title": "Country", "orient": "none", "legendX": 456, "legendY": -40, "labelBaseline": {"expr": "datum.label == 'The Federated States of Micronesia' ? 'bottom' : 'middle'"}, "labelExpr": "datum.label == 'The Federated States of Micronesia' ? ['The Federated States of', 'Micronesia'] : datum.label"}}
         }}
      ]
    },
    {
      "data": {"name": "c"},
      "title": {"text": "c", "anchor": "start", "frame": "bounds", "offset": -15, "dx": 34, "fontSize": 16, "fontWeight": "normal"},
      "spacing": 3,
      "hconcat": [
        {"transform": [{"lookup": "c", "from": {"data": {"name": "countries"}, "key": "c", "fields": ["Country", "Cluster"]}}, {"filter": "datum.Cluster == 1"}],
         "title": {"text": " ", "subtitle": "1"}, "width": 147, "height": 290,
         "mark": {"type": "line", "interpolate": "monotone", "strokeWidth": 1.4},
         "encoding": {
           "x": {"field": "y", "type": "quantitative", "scale": {"domain": [1993, 2021], "nice": false, "zero": false}, "axis": {"title": null, "values": [1995, 2005, 2015], "format": "d"}},
           "y": {"field": "v", "type": "quantitative", "scale": {"domain": [-7, 148], "nice": false, "zero": false}, "axis": {"title": ["Deaths per 100k, Injuries (Metabolic", "risks), age 70+"], "values": [0, 25, 50, 75, 100, 125], "labelExpr": "datum.value == 0 ? '.00' : format(datum.value, '.2f')"}},
           "color": {"field": "Country", "type": "nominal", "scale": {"domain": ["China","Cambodia","Laos","Malaysia","Philippines","Viet Nam","Fiji","Kiribati","Marshall Islands","The Federated States of Micronesia","Papua New Guinea","Samoa","Solomon Islands","Tonga","Vanuatu","Mongolia","Brunei","Japan","South Korea","Singapore","Australia","New Zealand"]}, "legend": {"title": "Country", "orient": "none", "legendX": 456, "legendY": -40, "labelBaseline": {"expr": "datum.label == 'The Federated States of Micronesia' ? 'bottom' : 'middle'"}, "labelExpr": "datum.label == 'The Federated States of Micronesia' ? ['The Federated States of', 'Micronesia'] : datum.label"}}
         }},
        {"transform": [{"lookup": "c", "from": {"data": {"name": "countries"}, "key": "c", "fields": ["Country", "Cluster"]}}, {"filter": "datum.Cluster == 2"}],
         "title": {"text": "Cluster", "subtitle": "2"}, "width": 147, "height": 290,
         "mark": {"type": "line", "interpolate": "monotone", "strokeWidth": 1.4},
         "encoding": {
           "x": {"field": "y", "type": "quantitative", "scale": {"domain": [1993, 2021], "nice": false, "zero": false}, "axis": {"title": "Year", "values": [1995, 2005, 2015], "format": "d"}},
           "y": {"field": "v", "type": "quantitative", "scale": {"domain": [-7, 148], "nice": false, "zero": false}, "axis": {"title": null, "labels": false, "values": [0, 25, 50, 75, 100, 125]}},
           "color": {"field": "Country", "type": "nominal", "scale": {"domain": ["China","Cambodia","Laos","Malaysia","Philippines","Viet Nam","Fiji","Kiribati","Marshall Islands","The Federated States of Micronesia","Papua New Guinea","Samoa","Solomon Islands","Tonga","Vanuatu","Mongolia","Brunei","Japan","South Korea","Singapore","Australia","New Zealand"]}, "legend": {"title": "Country", "orient": "none", "legendX": 456, "legendY": -40, "labelBaseline": {"expr": "datum.label == 'The Federated States of Micronesia' ? 'bottom' : 'middle'"}, "labelExpr": "datum.label == 'The Federated States of Micronesia' ? ['The Federated States of', 'Micronesia'] : datum.label"}}
         }},
        {"transform": [{"lookup": "c", "from": {"data": {"name": "countries"}, "key": "c", "fields": ["Country", "Cluster"]}}, {"filter": "datum.Cluster == 3"}],
         "title": {"text": " ", "subtitle": "3"}, "width": 147, "height": 290,
         "mark": {"type": "line", "interpolate": "monotone", "strokeWidth": 1.4},
         "encoding": {
           "x": {"field": "y", "type": "quantitative", "scale": {"domain": [1993, 2021], "nice": false, "zero": false}, "axis": {"title": null, "values": [1995, 2005, 2015], "format": "d"}},
           "y": {"field": "v", "type": "quantitative", "scale": {"domain": [-7, 148], "nice": false, "zero": false}, "axis": {"title": null, "labels": false, "values": [0, 25, 50, 75, 100, 125]}},
           "color": {"field": "Country", "type": "nominal", "scale": {"domain": ["China","Cambodia","Laos","Malaysia","Philippines","Viet Nam","Fiji","Kiribati","Marshall Islands","The Federated States of Micronesia","Papua New Guinea","Samoa","Solomon Islands","Tonga","Vanuatu","Mongolia","Brunei","Japan","South Korea","Singapore","Australia","New Zealand"]}, "legend": {"title": "Country", "orient": "none", "legendX": 456, "legendY": -40, "labelBaseline": {"expr": "datum.label == 'The Federated States of Micronesia' ? 'bottom' : 'middle'"}, "labelExpr": "datum.label == 'The Federated States of Micronesia' ? ['The Federated States of', 'Micronesia'] : datum.label"}}
         }}
      ]
    }
  ],
  "resolve": {"legend": {"color": "independent"}}
}
